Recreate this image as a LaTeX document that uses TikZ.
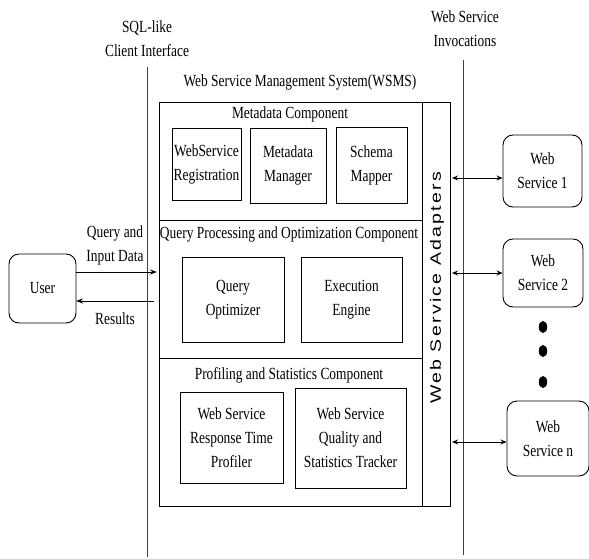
\documentclass[tikz,border=0pt]{standalone}
\usepackage{fontspec}
\setmainfont{Liberation Serif}[FakeStretch=0.79]
\newfontfamily\adapterfont{Liberation Sans}[FakeStretch=1.3,LetterSpace=15]
\usetikzlibrary{arrows.meta}

\begin{document}
\begin{tikzpicture}[x=1pt,y=-1pt,
  txt/.style={font=\fontsize{17}{24}\selectfont, align=center, inner sep=0pt},
  inbox/.style={draw, line width=0.9pt, align=center, inner sep=0pt,
    font=\fontsize{17}{24}\selectfont},
  wsbox/.style={draw, line width=0.9pt, rounded corners=10pt, align=center,
    inner sep=0pt, font=\fontsize{17}{24}\selectfont},
  rule/.style={line width=0.8pt, draw=black!75},
  sep/.style={line width=0.9pt},
  flow/.style={line width=0.9pt, -{Stealth[length=7pt,width=5pt]}},
  both/.style={line width=0.9pt, {Stealth[length=6pt,width=5pt]}-{Stealth[length=6pt,width=5pt]}},
  dot/.style={fill=black, draw=none}]
\useasboundingbox (0,0) rectangle (589,559);

% client interface and invocation boundaries
\node[txt] (sqllabel) at (147,39) {SQL-like\\Client Interface};
\coordinate (cliTop) at (147,67);
\coordinate (cliBot) at (147,557);
\draw[rule] (cliTop) -- (cliBot);

\node[txt] (invlabel) at (465,29) {Web Service\\Invocations};
\coordinate (invTop) at (463,60);
\coordinate (invBot) at (463,555);
\draw[rule] (invTop) -- (invBot);

% WSMS frame
\node[txt] (wsmslabel) at (300,82) {Web Service Management System(WSMS)};
\node[draw, line width=0.9pt, minimum width=291, minimum height=404, inner sep=0pt]
  (wsms) at (304.5,304) {};
\coordinate (adTop) at (422,102);
\coordinate (adBot) at (422,506);
\draw[sep] (adTop) -- (adBot);
\coordinate (d1l) at (159,220);
\coordinate (d1r) at (422,220);
\coordinate (d2l) at (159,358);
\coordinate (d2r) at (422,358);
\draw[sep] (d1l) -- (d1r);
\draw[sep] (d2l) -- (d2r);

\node[rotate=90, inner sep=0pt, font=\adapterfont\fontsize{15}{16}\selectfont]
  (adapters) at (437,288) {Web Service Adapters};

% metadata component
\node[txt] (metatitle) at (290,114) {Metadata Component};
\node[inbox, minimum width=69, minimum height=72] (reg) at (206.5,164) {WebService\\Registration};
\node[inbox, minimum width=76, minimum height=75] (mgr) at (288,165.5) {Metadata\\Manager};
\node[inbox, minimum width=71, minimum height=76] (map) at (371.5,165) {Schema\\Mapper};

% query processing component
\node[txt] (qtitle) at (289,234) {Query Processing and Optimization Component};
\node[inbox, minimum width=102, minimum height=85] (qopt) at (233,299.5) {Query\\Optimizer};
\node[inbox, minimum width=101, minimum height=85] (exec) at (351.5,299.5) {Execution\\Engine};

% profiling component
\node[txt] (ptitle) at (289,375) {Profiling and Statistics Component};
\node[inbox, minimum width=103, minimum height=91] (prof) at (231.5,437.5) {Web Service\\Response Time\\Profiler};
\node[inbox, minimum width=111, minimum height=100] (qual) at (350.5,438) {Web Service\\Quality and\\Statistics Tracker};

% user side
\node[wsbox, minimum width=67, minimum height=69] (user) at (42.5,288.5) {User};
\coordinate (inA) at (76,272);
\coordinate (inB) at (157,272);
\coordinate (outA) at (154,301);
\coordinate (outB) at (76,301);
\draw[flow] (inA) -- (inB);
\draw[flow] (outA) -- (outB);
\node[txt] (qlabel) at (115,245) {Query and\\Input Data};
\node[txt] (rlabel) at (115,319) {Results};

% web services
\node[wsbox, minimum width=79, minimum height=72] (ws1) at (542.5,171) {Web\\Service 1};
\node[wsbox, minimum width=80, minimum height=68] (ws2) at (543,273) {Web\\Service 2};
\node[wsbox, minimum width=82, minimum height=75] (wsn) at (548,438.5) {Web\\Service n};

\coordinate (a1) at (452,178);
\coordinate (a2) at (452,273);
\coordinate (a3) at (452,442);
\draw[both] (a1) -- (a1 -| ws1.west);
\draw[both] (a2) -- (a2 -| ws2.west);
\draw[both] (a3) -- (a3 -| wsn.west);

\fill[dot] (543,327) ellipse [x radius=4.2, y radius=6];
\fill[dot] (543,351) ellipse [x radius=4.2, y radius=6];
\fill[dot] (543,382) ellipse [x radius=4.2, y radius=6];
\end{tikzpicture}
\end{document}
